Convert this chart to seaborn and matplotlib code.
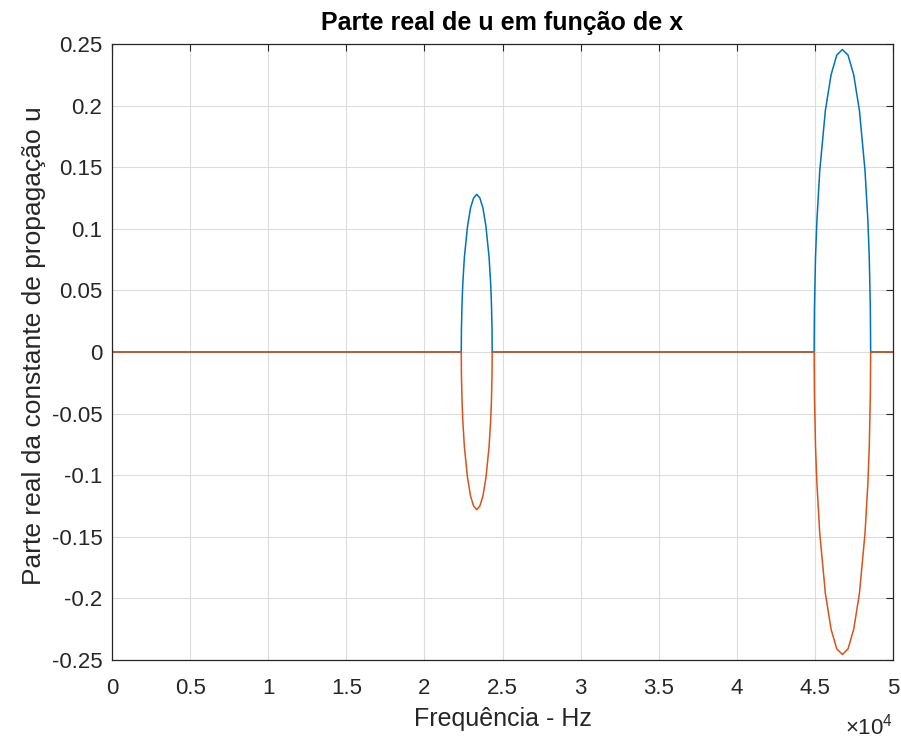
import numpy as np
import pandas as pd
import matplotlib
matplotlib.use("Agg")
import matplotlib.pyplot as plt
import seaborn as sns

# ---- data ----
arch1_x = [22360, 22370, 22410, 22460, 22560, 22760, 22955, 23150, 23350,
           23550, 23745, 23940, 24140, 24240, 24290, 24330, 24340]
arch1_y = [0, 0.018, 0.040, 0.056, 0.077, 0.102, 0.117, 0.125, 0.128,
           0.125, 0.117, 0.102, 0.077, 0.056, 0.040, 0.018, 0]
arch2_x = [44950, 44970, 45040, 45130, 45310, 45670, 46035, 46400, 46760,
           47120, 47485, 47850, 48210, 48390, 48480, 48550, 48570]
arch2_y = [0, 0.035, 0.077, 0.107, 0.147, 0.196, 0.225, 0.241, 0.2455,
           0.241, 0.225, 0.196, 0.147, 0.107, 0.077, 0.035, 0]
arch1_y_neg = [0, -0.018, -0.040, -0.056, -0.077, -0.102, -0.117, -0.125, -0.128,
               -0.125, -0.117, -0.102, -0.077, -0.056, -0.040, -0.018, 0]
arch2_y_neg = [0, -0.035, -0.077, -0.107, -0.147, -0.196, -0.225, -0.241, -0.2455,
               -0.241, -0.225, -0.196, -0.147, -0.107, -0.077, -0.035, 0]
x_start = 0
x_end = 50000

x_ticks = [0, 5000, 10000, 15000, 20000, 25000, 30000, 35000, 40000, 45000, 50000]
x_tick_labels = ['0', '0.5', '1', '1.5', '2', '2.5', '3', '3.5', '4', '4.5', '5']
y_ticks = [-0.25, -0.2, -0.15, -0.1, -0.05, 0, 0.05, 0.1, 0.15, 0.2, 0.25]
y_tick_labels = ['-0.25', '-0.2', '-0.15', '-0.1', '-0.05', '0', '0.05', '0.1', '0.15', '0.2', '0.25']

x_all = [x_start] + arch1_x + arch2_x + [x_end]
y_pos = [0] + arch1_y + arch2_y + [0]
y_neg = [0] + arch1_y_neg + arch2_y_neg + [0]

df = pd.DataFrame({"x": x_all, "pos": y_pos, "neg": y_neg})

sns.set_theme(style="white")
plt.rcParams['font.family'] = ['Liberation Sans', 'DejaVu Sans']
plt.rcParams['mathtext.fontset'] = 'custom'
plt.rcParams['mathtext.rm'] = 'Liberation Sans'

fig = plt.figure(figsize=(9.01, 7.40), dpi=100)
ax = fig.add_axes([112/901, 80/740, 781/901, 616/740])

sns.lineplot(data=df, x="x", y="pos", ax=ax, color="#0072BD", lw=1.1, sort=False, estimator=None)
sns.lineplot(data=df, x="x", y="neg", ax=ax, color="#D95319", lw=1.1, sort=False, estimator=None)

ax.set_xlim(0, 50000)
ax.set_ylim(-0.25, 0.25)
ax.set_xticks(x_ticks)
ax.set_xticklabels(x_tick_labels)
ax.set_yticks(y_ticks)
ax.set_yticklabels(y_tick_labels)

ax.grid(True, color="#dcdcdc", lw=0.8)
ax.set_axisbelow(True)
for s in ax.spines.values():
    s.set_color("#262626")
    s.set_linewidth(0.9)
    s.set_visible(True)

ax.tick_params(axis='both', which='both', direction='in', length=5, width=0.8,
               color="#262626", labelcolor="#262626", labelsize=16,
               top=True, right=True)
ax.tick_params(axis='x', pad=13)
ax.tick_params(axis='y', pad=7)

ax.set_xlabel("Frequência - Hz", fontsize=18, color="#262626", labelpad=6)
ax.set_ylabel("Parte real da constante de propagação u", fontsize=19, color="#262626", labelpad=4)
ax.yaxis.label.set_y(0.51)
ax.set_title("Parte real de u em função de x", fontsize=18, fontweight="bold", color="#000000", pad=10)

fig.text(893/901, 1 - 735/740, r"$\times10^{4}$", fontsize=16, color="#262626",
         ha="right", va="baseline")

fig.savefig("out.png", dpi=100, facecolor="white")
